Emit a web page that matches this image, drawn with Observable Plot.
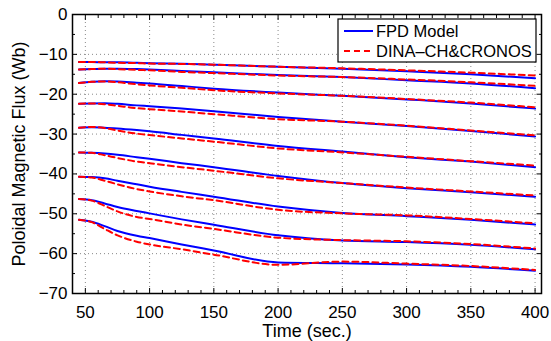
<!DOCTYPE html>
<html><head><meta charset="utf-8">
<script src="https://cdn.jsdelivr.net/npm/d3@7"></script>
<script src="https://cdn.jsdelivr.net/npm/@observablehq/plot@0.6"></script>
<style>
body{margin:0;background:#fff}
#chart svg{font-family:"Liberation Sans",Arial,Helvetica,sans-serif}
</style>
</head><body><div id="chart"></div><script>
// Time samples (sec.)
const time = [45, 55, 65, 75, 90, 100, 125, 150, 200, 250, 300, 350, 400];
// FPD Model flux curves (Wb), one array per curve
const fpdFlux = [
  [-11.9,-11.9,-12.0,-12.0,-12.1,-12.2,-12.35,-12.6,-13.1,-13.6,-14.25,-15.0,-16.0],
  [-13.8,-13.7,-13.6,-13.6,-13.7,-13.8,-14.15,-14.5,-15.2,-15.7,-16.5,-17.3,-18.5],
  [-17.2,-16.9,-16.75,-16.8,-17.1,-17.3,-17.95,-18.6,-19.6,-20.4,-21.3,-22.3,-23.6],
  [-22.4,-22.3,-22.25,-22.4,-22.8,-23.0,-23.6,-24.25,-25.7,-26.9,-28.0,-29.25,-30.6],
  [-28.4,-28.3,-28.4,-28.6,-29.0,-29.3,-30.2,-31.1,-33.0,-34.4,-35.8,-36.9,-38.3],
  [-34.6,-34.7,-34.9,-35.2,-35.8,-36.2,-37.3,-38.3,-40.5,-42.3,-43.6,-44.6,-45.7],
  [-40.7,-40.8,-41.1,-41.7,-42.6,-43.2,-44.5,-45.7,-48.2,-49.8,-50.6,-51.5,-52.7],
  [-46.3,-46.6,-47.4,-48.3,-49.3,-49.9,-51.4,-52.75,-55.4,-56.7,-57.1,-57.8,-58.9],
  [-51.5,-52.0,-53.1,-54.3,-55.5,-56.1,-57.7,-59.2,-62.2,-62.4,-62.7,-63.3,-64.3]
];
// DINA-CH&CRONOS flux curves (Wb)
const dinaFlux = [
  [-11.9,-11.9,-12.0,-12.1,-12.2,-12.3,-12.4,-12.6,-13.1,-13.5,-14.0,-14.6,-15.3],
  [-13.8,-13.7,-13.6,-13.7,-13.9,-14.0,-14.4,-14.7,-15.3,-15.7,-16.3,-17.0,-17.9],
  [-17.2,-16.9,-16.8,-17.0,-17.5,-17.8,-18.4,-19.0,-19.8,-20.4,-21.2,-22.1,-23.3],
  [-22.4,-22.3,-22.5,-22.9,-23.5,-23.75,-24.35,-25.0,-26.25,-26.9,-27.9,-29.1,-30.3],
  [-28.4,-28.2,-28.5,-29.1,-29.9,-30.25,-31.1,-31.9,-33.6,-34.6,-35.7,-36.8,-37.9],
  [-34.6,-34.7,-35.3,-36.0,-36.9,-37.3,-38.3,-39.2,-41.1,-42.3,-43.4,-44.4,-45.4],
  [-40.7,-40.9,-41.7,-42.6,-43.8,-44.4,-45.6,-46.6,-49.0,-49.9,-50.4,-51.3,-52.4],
  [-46.3,-46.7,-48.0,-49.4,-50.8,-51.3,-52.7,-53.8,-56.0,-56.6,-56.9,-57.6,-58.7],
  [-51.5,-52.1,-53.8,-55.4,-57.0,-57.7,-58.9,-60.25,-62.8,-62.0,-62.5,-63.1,-64.1]
];
const seriesNames = ["FPD Model", "DINA\u2013CH&CRONOS"];
const xMajor = [50, 100, 150, 200, 250, 300, 350, 400];
const yMajor = [0, -10, -20, -30, -40, -50, -60, -70];
const xMinor = d3.range(40, 406, 10).filter(v => v % 50 !== 0);
const yMinor = d3.range(-65, 0, 10);

const fpdRows = fpdFlux.flatMap((vals, i) => vals.map((v, j) => ({t: time[j], v, curve: i})));
const dinaRows = dinaFlux.flatMap((vals, i) => vals.map((v, j) => ({t: time[j], v, curve: i})));

const FONT = "Liberation Sans, Arial, Helvetica, sans-serif";
const chart = Plot.plot({
  width: 551, height: 341,
  marginLeft: 72, marginRight: 10, marginTop: 14, marginBottom: 48,
  style: {fontFamily: FONT, fontSize: "17px", background: "#fff", color: "#000", overflow: "visible"},
  x: {domain: [40, 405]},
  y: {domain: [-70, 0]},
  marks: [
    Plot.gridX(xMajor, {stroke: "#888", strokeOpacity: 1, strokeDasharray: "1,3"}),
    Plot.gridY(yMajor.filter(v => v !== 0 && v !== -70), {stroke: "#888", strokeOpacity: 1, strokeDasharray: "1,3"}),
    Plot.line(fpdRows, {x: "t", y: "v", z: "curve", stroke: "#0000ff", strokeWidth: 2, curve: "monotone-x"}),
    Plot.line(dinaRows, {x: "t", y: "v", z: "curve", stroke: "#ff0000", strokeWidth: 2, strokeDasharray: "6,4", curve: "monotone-x"}),
    Plot.frame({stroke: "#000", strokeWidth: 1.5}),
    // inward major ticks on all four sides
    Plot.axisX(xMajor, {anchor: "bottom", tickSize: -5, tickFormat: () => "", label: null}),
    Plot.axisX(xMajor, {anchor: "top", tickSize: -5, tickFormat: () => "", label: null}),
    Plot.axisY(yMajor, {anchor: "left", tickSize: -5, tickFormat: () => "", label: null}),
    Plot.axisY(yMajor, {anchor: "right", tickSize: -5, tickFormat: () => "", label: null}),
    // inward minor ticks
    Plot.axisX(xMinor, {anchor: "bottom", tickSize: -3, tickFormat: () => "", label: null}),
    Plot.axisX(xMinor, {anchor: "top", tickSize: -3, tickFormat: () => "", label: null}),
    Plot.axisY(yMinor, {anchor: "left", tickSize: -3, tickFormat: () => "", label: null}),
    Plot.axisY(yMinor, {anchor: "right", tickSize: -3, tickFormat: () => "", label: null}),
    // tick labels
    Plot.axisX(xMajor, {anchor: "bottom", tickSize: 0, tickPadding: 12, fontSize: 17, label: null}),
    Plot.axisY(yMajor, {anchor: "left", tickSize: 0, tickPadding: 5, fontSize: 17, label: null,
      tickFormat: d => d < 0 ? "\u2212" + (-d) : String(d)}),
    // axis titles
    Plot.text(["Time (sec.)"], {frameAnchor: "bottom", textAnchor: "middle", dy: 38, fontSize: 18, lineAnchor: "middle", fill: "#000"}),
    Plot.text(["Poloidal Magnetic Flux (Wb)"], {frameAnchor: "left", textAnchor: "middle", lineAnchor: "middle", dx: -53, rotate: -90, fontSize: 18, fill: "#000"})
  ]
});
document.getElementById("chart").append(chart);

// Legend box (top-right inside the frame)
const svg = d3.select(chart);
const lg = svg.append("g").attr("font-family", FONT).attr("font-size", 16.5).attr("text-anchor", "start");
lg.append("rect").attr("x", 338).attr("y", 19).attr("width", 198).attr("height", 43)
  .attr("fill", "#fff").attr("stroke", "#000").attr("stroke-width", 1.2);
const items = [
  {name: seriesNames[0], stroke: "#0000ff", dash: null, y: 31},
  {name: seriesNames[1], stroke: "#ff0000", dash: "6,4", y: 51}
];
items.forEach(it => {
  lg.append("line").attr("x1", 344).attr("x2", 373).attr("y1", it.y).attr("y2", it.y)
    .attr("stroke", it.stroke).attr("stroke-width", 2).attr("stroke-dasharray", it.dash);
  lg.append("text").attr("x", 376).attr("y", it.y).attr("dy", "0.35em").attr("text-anchor", "start")
    .attr("fill", "#000").text(it.name);
});
</script></body></html>
